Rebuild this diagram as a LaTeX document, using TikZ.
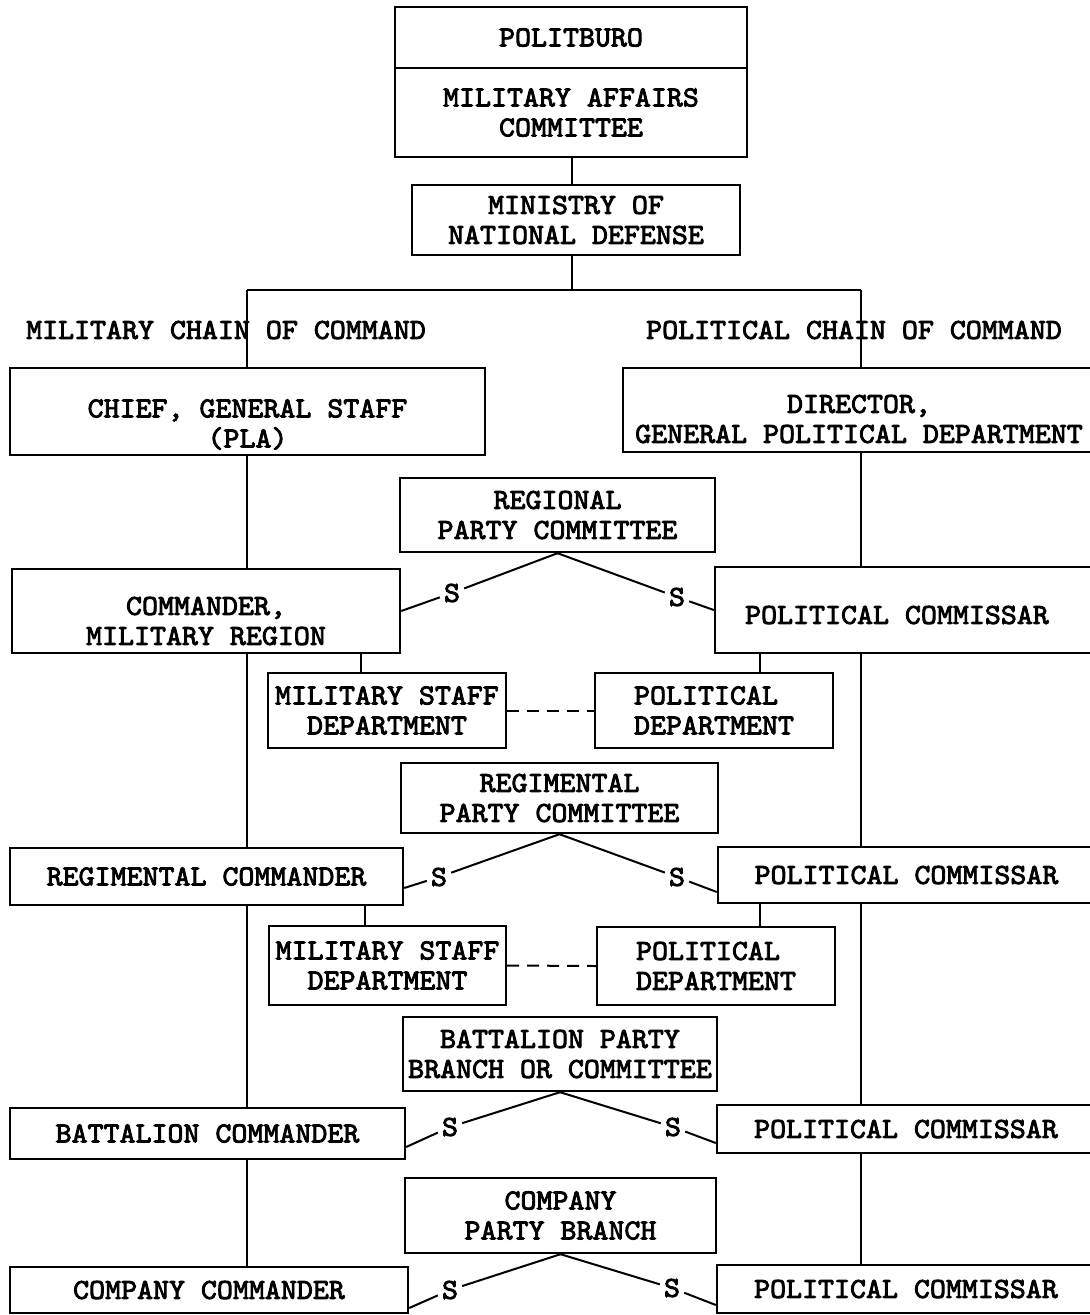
\documentclass[tikz,border=0pt]{standalone}
\usepackage{fontspec}
\newfontfamily\tw[Extension=.otf, FakeBold=3, FakeStretch=1.05]{lmmono10-regular}
\newcommand\twfont{\tw\fontsize{29pt}{30pt}\selectfont}
\begin{document}
\begin{tikzpicture}[x=1pt,y=-1pt,
  box/.style={draw, line width=2.4pt, inner sep=0pt, align=center, font=\twfont},
  lbl/.style={inner sep=0pt, align=center, font=\twfont},
  ln/.style={line width=2pt},
  dsh/.style={line width=2pt, dash pattern=on 12pt off 8pt},
  snode/.style={inner sep=4pt, font=\twfont}]
\useasboundingbox (0,0) rectangle (1090,1315);

% top
\node[box, minimum width=352, minimum height=61] (pb) at (571,37.5) {POLITBURO};
\node[box, minimum width=352, minimum height=89] (mac) at (571,112.5) {MILITARY AFFAIRS\\COMMITTEE};
\node[box, minimum width=328, minimum height=70] (mnd) at (576,220) {MINISTRY OF\\NATIONAL DEFENSE};

\coordinate (jn) at (572,290);
\coordinate (lc) at (247,290);
\coordinate (rc) at (861,290);

\node[lbl] (mcc) at (226,330) {MILITARY CHAIN OF COMMAND};
\node[lbl] (pcc) at (854,330) {POLITICAL CHAIN OF COMMAND};

\node[box, minimum width=475, minimum height=87,
  label={[lbl,yshift=-13pt,name=chieft]center:{CHIEF, GENERAL STAFF\\(PLA)}}] (chief) at (247.5,411.5) {};
\node[box, minimum width=472, minimum height=84,
  label={[lbl,yshift=-9pt,name=dirt]center:{DIRECTOR,\\GENERAL POLITICAL DEPARTMENT}}] (dir) at (859,410) {};

% level 1
\node[box, minimum width=315, minimum height=74] (rpc) at (557.5,515) {REGIONAL\\PARTY COMMITTEE};
\node[box, minimum width=388, minimum height=84,
  label={[lbl,yshift=-10pt,name=cmrt]center:{COMMANDER,\\MILITARY REGION}}] (cmr) at (206,611) {};
\node[box, minimum width=380, minimum height=86,
  label={[lbl,xshift=-8pt,yshift=-5pt,name=pc1t]center:{POLITICAL COMMISSAR}}] (pc1) at (905,610) {};
\node[box, minimum width=238, minimum height=75] (msd1) at (387,710.5) {MILITARY STAFF\\DEPARTMENT};
\node[box, align=left, minimum width=238, minimum height=75] (pd1) at (714,710.5) {POLITICAL\\DEPARTMENT};

% level 2
\node[box, minimum width=317, minimum height=70] (rgpc) at (559.5,798) {REGIMENTAL\\PARTY COMMITTEE};
\node[box, minimum width=393, minimum height=57] (rgc) at (206.5,876.5) {REGIMENTAL COMMANDER};
\node[box, minimum width=377, minimum height=56] (pc2) at (906.5,875) {POLITICAL COMMISSAR};
\node[box, minimum width=237, minimum height=79] (msd2) at (387.5,965.5) {MILITARY STAFF\\DEPARTMENT};
\node[box, align=left, minimum width=238, minimum height=78] (pd2) at (716,966) {POLITICAL\\DEPARTMENT};

% level 3
\node[box, minimum width=314, minimum height=74] (bpc) at (560,1054) {BATTALION PARTY\\BRANCH OR COMMITTEE};
\node[box, minimum width=395, minimum height=51] (bc) at (207.5,1133.5) {BATTALION COMMANDER};
\node[box, minimum width=378, minimum height=48] (pc3) at (906,1129) {POLITICAL COMMISSAR};

% level 4
\node[box, minimum width=311, minimum height=75] (cpb) at (560.5,1215.5) {COMPANY\\PARTY BRANCH};
\node[box, minimum width=398, minimum height=46] (cc) at (209,1290) {COMPANY COMMANDER};
\node[box, minimum width=378, minimum height=48] (pc4) at (906,1289) {POLITICAL COMMISSAR};

% S nodes
\node[snode] (s1l) at (452,593) {S};
\node[snode] (s1r) at (677,597) {S};
\node[snode] (s2l) at (439,877) {S};
\node[snode] (s2r) at (677,877) {S};
\node[snode] (s3l) at (450,1127) {S};
\node[snode] (s3r) at (673,1127) {S};
\node[snode] (s4l) at (450,1290) {S};
\node[snode] (s4r) at (672,1288) {S};

% top connectors
\draw[ln] (mac.south -| jn) -- (mnd.north -| jn);
\draw[ln] (mnd.south -| jn) -- (jn);
\draw[ln] (lc) -- (rc);
\draw[ln] (lc) -- (lc |- chief.north);
\draw[ln] (rc) -- (rc |- dir.north);

% chains
\draw[ln] (lc |- chief.south) -- (lc |- cmr.north);
\draw[ln] (lc |- cmr.south) -- (lc |- rgc.north);
\draw[ln] (lc |- rgc.south) -- (lc |- bc.north);
\draw[ln] (lc |- bc.south) -- (lc |- cc.north);
\draw[ln] (rc |- dir.south) -- (rc |- pc1.north);
\draw[ln] (rc |- pc1.south) -- (rc |- pc2.north);
\draw[ln] (rc |- pc2.south) -- (rc |- pc3.north);
\draw[ln] (rc |- pc3.south) -- (rc |- pc4.north);

% staff connectors
\coordinate (m1) at (361,0);
\coordinate (m2) at (365,0);
\coordinate (p1) at (760,0);
\draw[ln] (m1 |- cmr.south) -- (m1 |- msd1.north);
\draw[ln] (p1 |- pc1.south) -- (p1 |- pd1.north);
\draw[ln] (m2 |- rgc.south) -- (m2 |- msd2.north);
\draw[ln] (p1 |- pc2.south) -- (p1 |- pd2.north);
\draw[dsh] (msd1.east) -- (pd1.west);
\draw[dsh] (msd2.east) -- (pd2.west);

% S links
\draw[ln] (cmr.east) -- (s1l) -- (rpc.south);
\draw[ln] (rpc.south) -- (s1r) -- (pc1.west);
\draw[ln] ([yshift=-11.5pt]rgc.east) -- (s2l) -- (rgpc.south);
\draw[ln] (rgpc.south) -- (s2r) -- ([yshift=-17pt]pc2.west);
\draw[ln] ([yshift=-13.5pt]bc.east) -- (s3l) -- (bpc.south);
\draw[ln] (bpc.south) -- (s3r) -- ([yshift=-14pt]pc3.west);
\draw[ln] ([yshift=-18pt]cc.east) -- (s4l) -- (cpb.south);
\draw[ln] (cpb.south) -- (s4r) -- ([yshift=-16pt]pc4.west);
\end{tikzpicture}
\end{document}
